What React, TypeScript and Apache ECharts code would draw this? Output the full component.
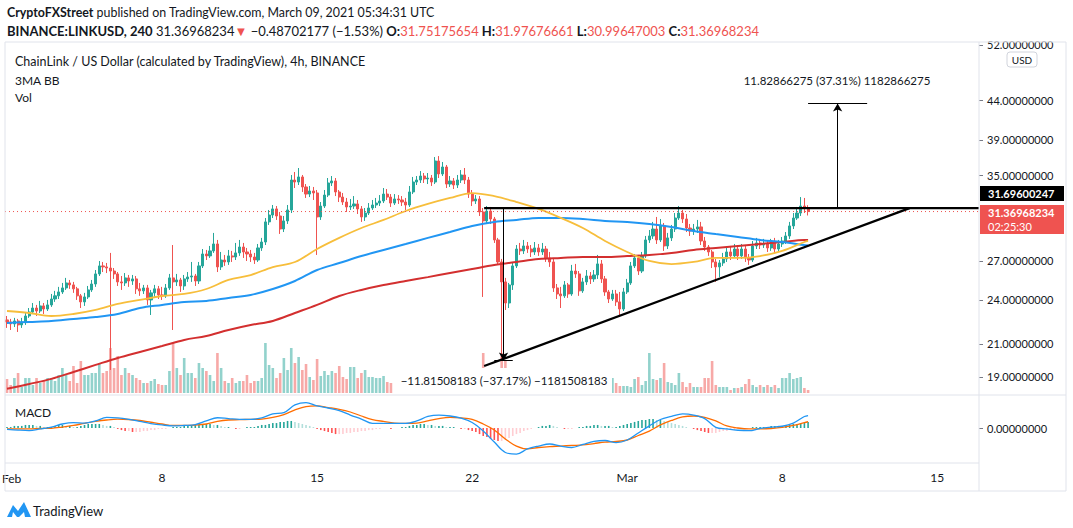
import { useEffect, useRef } from 'react';
import * as echarts from 'echarts';

// ---------- DATA ----------
// 4h candles from 2021-02-01 00:00 UTC: [open, close, low, high]
const candles: number[][] = [
  // Feb 1
  [22.58,22.44,22.04,22.85],[22.44,22.31,21.90,22.65],[22.31,22.51,22.10,22.72],[22.51,22.24,21.77,22.65],[22.24,22.44,22.04,22.72],[22.44,22.85,22.24,23.06],
  // Feb 2
  [22.85,23.13,22.72,23.41],[23.13,23.41,22.99,23.77],[23.41,23.20,22.85,23.63],[23.20,23.56,23.06,23.92],[23.56,23.34,22.99,23.77],[23.34,23.63,23.20,23.99],
  // Feb 3
  [23.63,24.06,23.49,24.43],[24.06,24.29,23.85,24.66],[24.29,24.58,24.06,24.96],[24.58,24.88,24.43,25.26],[24.88,25.26,24.73,25.65],[25.26,25.11,24.81,25.49],
  // Feb 4
  [25.11,24.81,24.51,25.34],[24.81,24.29,23.99,24.96],[24.29,23.85,23.41,24.43],[23.85,24.21,23.56,24.51],[24.21,24.73,24.06,25.03],[24.73,25.18,24.58,25.49],
  // Feb 5
  [25.18,25.96,24.96,26.27],[25.96,26.60,25.80,27.00],[26.60,26.52,26.11,26.92],[26.52,26.43,26.03,26.84],[26.43,26.19,19.40,27.67],[26.19,25.96,25.57,26.43],
  // Feb 6
  [25.96,25.34,25.03,26.11],[25.34,25.26,24.73,25.80],[25.26,25.65,25.03,26.03],[25.65,25.41,24.96,25.88],[25.41,25.57,25.11,25.88],[25.57,24.81,24.43,25.80],
  // Feb 7
  [24.81,24.66,24.29,25.26],[24.66,24.88,24.43,25.11],[24.88,23.99,23.63,25.11],[23.99,24.51,22.92,24.73],[24.51,24.81,24.21,25.11],[24.81,24.36,24.06,25.03],
  // Feb 8
  [24.36,24.29,23.99,24.96],[24.29,24.88,24.14,25.18],[24.88,25.65,24.73,25.96],[25.65,25.34,21.90,28.34],[25.34,25.49,25.03,25.96],[25.49,25.03,24.58,25.65],
  // Feb 9
  [25.03,25.57,24.73,25.88],[25.57,25.72,25.34,26.11],[25.72,25.80,25.34,26.92],[25.80,25.41,25.03,25.96],[25.41,26.60,25.18,26.92],[26.60,27.58,26.43,28.00],
  // Feb 10
  [27.58,27.42,27.08,27.92],[27.42,27.84,27.25,28.26],[27.84,28.43,27.67,29.40],[28.43,26.52,26.11,28.78],[26.52,27.08,26.27,27.75],[27.08,26.92,26.60,27.50],
  // Feb 11
  [26.92,27.42,26.68,27.92],[27.42,27.33,26.92,27.84],[27.33,27.67,27.08,28.52],[27.67,28.17,27.42,28.78],[28.17,27.75,27.25,28.52],[27.75,27.58,27.00,28.09],
  // Feb 12
  [27.58,27.33,26.92,27.92],[27.33,27.08,26.76,27.67],[27.08,28.09,26.92,28.43],[28.09,28.60,27.84,28.96],[28.60,30.40,28.34,30.76],[30.40,31.04,30.12,31.52],
  // Feb 13
  [31.04,31.62,30.76,32.00],[31.62,30.95,30.58,31.90],[30.95,29.75,29.31,31.33],[29.75,30.49,29.48,30.95],[30.49,31.52,30.21,32.00],[31.52,34.52,31.23,35.05],
  // Feb 14
  [34.52,34.31,33.69,35.37],[34.31,34.84,34.00,35.80],[34.84,33.80,33.29,35.05],[33.80,33.08,32.69,34.10],[33.08,33.39,32.78,33.90],[33.39,33.19,32.49,33.80],
  // Feb 15
  [33.19,30.86,27.50,33.49],[30.86,31.90,30.58,32.29],[31.90,32.98,31.71,33.49],[32.98,34.21,32.78,34.73],[34.21,34.42,33.90,34.94],[34.42,33.29,32.88,34.73],
  // Feb 16
  [33.29,32.78,32.29,33.49],[32.78,32.29,32.00,33.19],[32.29,31.81,31.33,32.69],[31.81,31.90,31.52,32.59],[31.90,32.10,31.62,32.88],[32.10,31.62,31.14,32.49],
  // Feb 17
  [31.62,30.86,30.40,31.90],[30.86,31.23,30.49,31.71],[31.23,31.71,31.04,32.19],[31.71,32.00,31.52,32.49],[32.00,32.19,31.71,32.69],[32.19,32.39,31.90,32.98],
  // Feb 18
  [32.39,33.08,32.19,33.69],[33.08,32.78,32.49,33.59],[32.78,32.19,31.81,33.08],[32.19,32.59,32.00,33.08],[32.59,32.49,32.10,32.98],[32.49,32.29,31.90,32.88],
  // Feb 19
  [32.29,32.00,31.52,32.69],[32.00,33.29,31.81,33.90],[33.29,34.31,33.08,34.84],[34.31,34.52,34.00,34.94],[34.52,34.94,34.21,35.47],[34.94,34.63,34.21,35.26],
  // Feb 20
  [34.63,34.73,34.10,35.26],[34.73,34.31,33.90,35.05],[34.31,36.57,34.10,37.01],[36.57,35.16,34.73,37.12],[35.16,35.91,34.94,36.46],[35.91,34.10,33.69,36.13],
  // Feb 21
  [34.10,34.42,33.80,34.94],[34.42,34.00,33.59,34.73],[34.00,34.52,33.69,35.05],[34.52,35.05,34.21,35.58],[35.05,34.52,34.10,35.80],[34.52,33.08,32.69,34.84],
  // Feb 22
  [33.08,32.39,31.90,33.49],[32.39,32.59,32.10,32.98],[32.59,31.33,30.95,32.88],[31.33,30.49,24.21,31.71],[30.49,31.42,30.21,31.90],[31.42,30.67,30.21,31.81],
  // Feb 23
  [30.67,28.78,28.52,30.86],[28.78,26.92,26.68,28.96],[26.92,25.34,19.97,27.17],[25.34,23.77,23.27,25.65],[23.77,25.11,23.41,25.26],[25.11,26.60,24.73,26.92],
  // Feb 24
  [26.60,28.00,26.43,28.34],[28.00,27.84,27.50,28.52],[27.84,28.26,27.58,28.78],[28.26,28.00,27.67,28.60],[28.00,27.75,27.33,28.34],[27.75,28.09,27.50,28.60],
  // Feb 25
  [28.09,27.75,27.42,28.43],[27.75,28.00,27.50,28.52],[28.00,27.25,26.92,28.26],[27.25,26.92,26.52,27.75],[26.92,24.88,24.58,27.17],[24.88,24.43,24.06,25.18],
  // Feb 26
  [24.43,24.29,23.41,24.96],[24.29,25.11,24.14,25.41],[25.11,24.43,24.14,25.26],[24.43,26.19,24.29,26.68],[26.19,25.96,25.65,26.76],[25.96,24.66,24.29,26.19],
  // Feb 27
  [24.66,25.34,24.51,25.65],[25.34,25.80,25.11,26.27],[25.80,25.57,25.18,26.11],[25.57,25.88,25.34,26.27],[25.88,26.76,25.57,27.50],[26.76,25.57,25.26,27.08],
  // Feb 28
  [25.57,24.58,24.29,25.80],[24.58,24.06,23.77,24.73],[24.06,24.43,23.92,24.73],[24.43,23.85,23.56,24.73],[23.85,23.34,22.78,24.58],[23.34,24.58,23.20,24.88],
  // Mar 1
  [24.58,25.26,24.43,25.57],[25.26,26.60,25.11,26.92],[26.60,27.25,26.43,27.58],[27.25,26.19,25.88,27.50],[26.19,27.42,26.03,27.75],[27.42,28.78,27.25,29.13],
  // Mar 2
  [28.78,29.13,28.52,29.66],[29.13,29.75,28.87,30.40],[29.75,28.78,28.43,30.86],[28.78,30.03,28.60,30.67],[30.03,28.26,27.84,30.30],[28.26,28.96,28.00,29.40],
  // Mar 3
  [28.96,29.75,28.69,30.12],[29.75,30.76,29.48,31.23],[30.76,31.23,30.58,31.90],[31.23,30.67,30.30,31.52],[30.67,29.84,29.48,31.14],[29.84,29.57,29.13,30.21],
  // Mar 4
  [29.57,29.75,29.22,30.21],[29.75,29.94,29.40,30.58],[29.94,28.69,28.34,30.40],[28.69,28.17,27.84,29.04],[28.17,27.75,27.42,28.34],[27.75,26.92,26.43,27.92],
  // Mar 5
  [26.92,26.52,25.34,27.17],[26.52,26.84,25.72,27.08],[26.84,27.17,26.60,27.67],[27.17,27.75,26.92,28.17],[27.75,27.42,27.08,28.26],[27.42,28.00,27.25,28.43],
  // Mar 6
  [28.00,27.42,27.08,28.34],[27.42,28.00,27.17,28.43],[28.00,27.25,26.92,28.34],[27.25,27.08,26.68,27.58],[27.08,28.26,26.92,28.69],[28.26,28.52,28.00,28.96],
  // Mar 7
  [28.52,28.34,28.00,28.87],[28.34,28.43,28.09,28.87],[28.43,28.09,27.75,28.69],[28.09,28.52,27.84,28.87],[28.52,28.00,27.67,28.96],[28.00,28.43,27.75,28.78],
  // Mar 8
  [28.43,28.69,28.17,29.04],[28.69,29.13,28.43,29.48],[29.13,30.03,28.87,30.40],[30.03,30.76,29.75,31.23],[30.76,31.23,30.58,31.81],[31.23,31.90,30.95,32.78],
  // Mar 9
  [31.90,31.75,31.23,32.69],[31.75175654,31.36968234,30.99647003,31.97676661],
];

// volume per candle (relative units)
const volumes: number[] = [
  14,8,15,20,6,15, 15,8,15,10,12,15, 15,12,18,25,18,12, 27,10,32,18,18,20, 20,30,20,22,45,25,
  37,18,25,20,18,15, 13,10,10,12,14,9, 8,8,22,55,25,18, 35,20,20,15,30,25, 22,18,12,40,25,12,
  10,15,10,12,12,18, 10,12,12,15,50,28, 25,15,20,35,23,45, 30,36,23,29,16,13, 34,17,22,18,22,20,
  27,16,14,26,26,15, 20,23,16,16,15,15, 17,11,10,8,8,8, 12,18,20,10,14,9, 10,12,22,20,14,16,
  10,8,12,14,12,18, 16,10,18,40,20,14, 22,22,40,33,20,18, 20,12,10,9,10,8, 8,9,10,12,22,18,
  20,12,10,18,10,14, 10,12,8,9,16,12, 14,10,15,10,7,7, 7,6,14,16,8,12, 40,14,13,15,30,11,
  10,8,20,11,6,10, 6,6,6,15,15,32, 8,6,6,6,3,5, 5,6,9,14,8,6, 8,6,8,6,8,5,
  15,15,20,14,15,16, 5,3,
];

// moving averages, one point per day at 00:00 (Feb 1 .. Mar 9) + last candle
const maYellow = [23.20,23.06,22.85,22.99,23.27,23.70,23.99,24.28,24.43,24.80,25.49,25.87,26.51,26.92,28.00,28.96,29.84,30.58,31.42,32.10,32.69,33.18,32.87,32.29,31.62,30.77,29.84,28.69,27.75,27.00,26.75,26.92,27.25,27.25,27.41,27.84,28.60,28.69];
const maBlue = [22.37,22.44,22.51,22.65,22.78,22.99,23.41,23.63,23.84,23.92,24.14,24.36,24.80,25.41,26.27,26.83,27.41,27.92,28.43,28.96,29.48,30.02,30.39,30.58,30.77,30.77,30.67,30.49,30.39,30.21,29.93,29.57,29.30,29.04,28.78,28.60,28.34,28.30];
const maRed = [18.32,18.59,18.88,19.28,19.70,20.12,20.49,20.86,21.25,21.51,21.90,22.23,22.51,23.06,23.63,24.28,24.73,25.10,25.41,25.71,26.03,26.35,26.67,26.92,27.16,27.25,27.33,27.33,27.41,27.50,27.67,27.92,28.09,28.26,28.43,28.60,28.78,28.78];

// MACD, one point per 12h + last candle
const macdLine = [-0.08,-0.13,-0.16,-0.06,0.06,0.25,0.34,0.31,0.44,0.66,0.63,0.54,0.41,0.28,0.19,0.13,0.16,0.21,0.44,0.64,0.59,0.54,0.54,0.63,0.88,0.96,1.44,1.59,1.38,1.25,1.09,0.81,0.56,0.29,0.29,0.29,0.29,0.44,0.72,0.81,0.75,0.61,0.34,-0.19,-0.88,-1.53,-1.63,-1.31,-1.13,-1.00,-1.13,-1.22,-1.03,-0.84,-0.78,-0.91,-0.75,-0.31,0.13,0.53,0.72,0.88,0.81,0.59,0.04,-0.06,-0.14,-0.17,-0.03,0.06,0.11,0.31,0.72,0.78];
const signalLine = [-0.06,-0.05,-0.05,-0.03,-0.02,0.06,0.16,0.29,0.41,0.50,0.55,0.53,0.47,0.36,0.25,0.16,0.16,0.18,0.25,0.41,0.50,0.52,0.54,0.56,0.66,0.84,1.13,1.34,1.38,1.28,1.17,1.00,0.75,0.53,0.41,0.31,0.29,0.31,0.44,0.59,0.67,0.63,0.54,0.25,-0.13,-0.69,-1.13,-1.31,-1.22,-1.16,-1.13,-1.09,-1.06,-0.97,-0.88,-0.84,-0.75,-0.47,-0.19,0.19,0.47,0.69,0.75,0.66,0.44,0.13,0.00,-0.06,-0.06,-0.03,0.04,0.16,0.34,0.39];
// MACD histogram per candle
const macdHist = [
  0.06,0.06,0.13,0.13,0.13,0.19, 0.19,0.19,0.13,0.13,0.06,0.06, 0.06,0.13,0.19,0.19,0.13,0.13, 0.06,0.06,0.13,0.19,0.25,0.25,
  0.25,0.25,0.19,0.13,0.13,0.06, -0.06,-0.13,-0.19,-0.19,-0.25,-0.25, -0.25,-0.19,-0.19,-0.13,-0.13,-0.06, -0.06,-0.06,0,0.06,0.06,0.06,
  0.13,0.13,0.13,0.19,0.19,0.25, 0.25,0.25,0.19,0.19,0.13,0.06, 0.06,0,-0.06,-0.06,0,0.06, 0.06,0.06,0.13,0.19,0.19,0.25,
  0.31,0.31,0.38,0.38,0.44,0.44, 0.38,0.31,0.25,0.19,0.13,0.06, -0.06,-0.13,-0.19,-0.25,-0.31,-0.38, -0.38,-0.38,-0.31,-0.31,-0.25,-0.25,
  -0.19,-0.19,-0.13,-0.13,-0.06,-0.06, 0,0,-0.06,0,0,0.06, 0.06,0.13,0.19,0.19,0.25,0.25, 0.19,0.19,0.13,0.13,0.13,0.06,
  0.06,0.06,0,-0.06,-0.06,-0.13, -0.19,-0.25,-0.38,-0.5,-0.56,-0.69, -0.75,-0.81,-0.81,-0.75,-0.63,-0.5, -0.38,-0.31,-0.19,-0.13,-0.06,0,
  0.06,0.13,0.13,0.19,0.13,0.06, 0,-0.06,-0.06,-0.06,0,0.06, 0.06,0.13,0.13,0.19,0.19,0.13, 0.13,0.13,0.06,0.06,0.13,0.19,
  0.25,0.31,0.38,0.44,0.5,0.5, 0.56,0.56,0.5,0.5,0.44,0.38, 0.31,0.25,0.19,0.13,0.06,0, -0.06,-0.13,-0.19,-0.25,-0.31,-0.31,
  -0.31,-0.25,-0.19,-0.19,-0.13,-0.13, -0.06,-0.06,0,0,0.06,0.06, 0.06,0.06,0.06,0.13,0.13,0.13, 0.13,0.19,0.19,0.25,0.25,0.31,
  0.31,0.38,
];

// axis ticks
const priceTicks = [19, 21, 24, 27, 35, 39, 44, 52];
const timeTicks = ['2021-02-08', '2021-02-15', '2021-02-22', '2021-03-01', '2021-03-08', '2021-03-15'];
const firstMonthLabel = 'Feb'; // label of 2021-02-01 at the pane's left edge
const MONTHS = ['Jan', 'Feb', 'Mar', 'Apr', 'May', 'Jun', 'Jul', 'Aug', 'Sep', 'Oct', 'Nov', 'Dec'];

// drawings / annotations
const resistance = 31.69600247;
const lastPrice = 31.36968234;
const supportStart = 19.63;
const drawStart = '2021-02-22T13:00:00Z';
const supportEnd = '2021-03-13T18:00:00Z';
const dropAbs = 11.81508183;
const dropPct = 37.17;
const dropStart = 31.7866;
const dropTime = '2021-02-23T10:00:00Z';
const dropCap = ['2021-02-23T00:00:00Z', '2021-02-23T20:00:00Z'];
const riseAbs = 11.82866275;
const risePct = 37.31;
const riseTime = '2021-03-10T12:00:00Z';
const riseCap = ['2021-03-09T04:00:00Z', '2021-03-11T20:00:00Z'];

// ---------- HELPERS ----------
const HOUR4 = 4 * 3600 * 1000;
const DAY = 24 * 3600 * 1000;
const T0 = Date.UTC(2021, 1, 1);
const X_MIN = T0 - 0.0903 * DAY;
const X_MAX = T0 + 43.883 * DAY;
const P_TOP = 52.47;
const P_BOTTOM = 17.98;
const FONT = 'Lato, "Noto Sans", sans-serif';
const TXT = '#131722';
const UP = '#26a69a';
const DOWN = '#ef5350';
const BORDER = '#e0e3eb';
const ln = Math.log;
const t = (s: string) => Date.parse(s.length === 10 ? s + 'T00:00:00Z' : s);

function buildOption() {
  const times = candles.map((_, i) => T0 + i * HOUR4);
  const lastT = times[times.length - 1];
  const maT = (i: number, n: number) => (i < n - 1 ? T0 + i * DAY : lastT);
  const macdT = (i: number, n: number) => (i < n - 1 ? T0 + (i * DAY) / 2 : lastT);
  const riseEnd = resistance + riseAbs;
  const dropEnd = dropStart - dropAbs;

  const maSeries = (vals: number[], color: string, width: number) => ({
    type: 'line', xAxisIndex: 0, yAxisIndex: 0, z: 3, showSymbol: false, symbol: 'none', smooth: 0.35,
    data: vals.map((v, i) => [maT(i, vals.length), ln(v)]),
    lineStyle: { color, width }, silent: true,
  });
  const macdSeries = (vals: number[], color: string) => ({
    type: 'line', xAxisIndex: 2, yAxisIndex: 2, z: 3, showSymbol: false, symbol: 'none', smooth: 0.35,
    data: vals.map((v, i) => [macdT(i, vals.length), v]),
    lineStyle: { color, width: 1.3 }, silent: true,
  });

  const xAxisBase = (gridIndex: number) => ({
    type: 'value', gridIndex, min: X_MIN, max: X_MAX, scale: true,
    axisLine: { show: false }, axisTick: { show: false }, splitLine: { show: false },
    axisLabel: { show: false },
  });

  const lbl = (text: string, x: number, y: number, size = 12, extra: any = {}) => ({
    type: 'text', x, y, z: 120,
    style: { text, fill: TXT, fontSize: size, fontFamily: FONT, verticalAlign: 'middle', ...extra },
  });
  const hline = (x1: number, y1: number, x2: number, y2: number, color = BORDER) => ({
    type: 'line', z: 130, shape: { x1, y1, x2, y2 }, style: { stroke: color, lineWidth: 1 },
  });

  return {
    animation: false,
    backgroundColor: '#ffffff',
    textStyle: { fontFamily: FONT },
    grid: [
      { left: 5, right: 94, top: 42, height: 353 },
      { left: 5, right: 94, top: 343, height: 50 },
      { left: 5, right: 94, top: 395, height: 68 },
    ],
    xAxis: [
      xAxisBase(0),
      xAxisBase(1),
      {
        ...xAxisBase(2),
        axisLabel: {
          show: true, color: TXT, fontSize: 12, margin: 8, fontFamily: FONT,
          customValues: timeTicks.map(t),
          formatter: (v: number) => {
            const d = new Date(v);
            return d.getUTCDate() === 1 ? MONTHS[d.getUTCMonth()] : String(d.getUTCDate());
          },
        },
      },
    ],
    yAxis: [
      {
        type: 'value', gridIndex: 0, position: 'right', min: ln(P_BOTTOM), max: ln(P_TOP), scale: true,
        splitLine: { show: false }, axisLine: { show: false },
        axisTick: { show: true, length: 4, lineStyle: { color: '#787b86' }, customValues: priceTicks.map(ln) },
        axisLabel: {
          color: TXT, fontSize: 11, margin: 8, fontFamily: FONT,
          customValues: priceTicks.map(ln),
          formatter: (v: number) => Math.exp(v).toFixed(8),
        },
      },
      { type: 'value', gridIndex: 1, min: 0, max: 50, show: false },
      {
        type: 'value', gridIndex: 2, position: 'right', min: -2.1875, max: 2.0625,
        splitLine: { show: false }, axisLine: { show: false },
        axisTick: { show: true, length: 4, lineStyle: { color: '#787b86' }, customValues: [0] },
        axisLabel: {
          color: TXT, fontSize: 11, margin: 8, fontFamily: FONT, customValues: [0],
          formatter: (v: number) => v.toFixed(8),
        },
      },
    ],
    series: [
      {
        type: 'bar', xAxisIndex: 1, yAxisIndex: 1, z: 1, barWidth: 2.6, silent: true,
        data: volumes.map((v, i) => ({
          value: [times[i], v],
          itemStyle: { color: candles[i][1] >= candles[i][0] ? 'rgba(38,166,154,0.5)' : 'rgba(239,83,80,0.5)' },
        })),
      },
      {
        type: 'candlestick', xAxisIndex: 0, yAxisIndex: 0, z: 2, barWidth: 2.6, silent: true,
        data: candles.map((c, i) => [times[i], ln(c[0]), ln(c[1]), ln(c[2]), ln(c[3])]),
        itemStyle: { color: UP, color0: DOWN, borderColor: UP, borderColor0: DOWN, borderWidth: 1 },
      },
      maSeries(maRed, '#d32f2f', 2),
      maSeries(maBlue, '#2196f3', 2),
      maSeries(maYellow, '#f7be3b', 1.8),
      {
        type: 'line', xAxisIndex: 0, yAxisIndex: 0, z: 4, symbol: 'none', silent: true,
        data: [[X_MIN, ln(lastPrice)], [X_MAX, ln(lastPrice)]],
        lineStyle: { color: DOWN, width: 1, type: [1, 3] },
      },
      {
        type: 'line', xAxisIndex: 0, yAxisIndex: 0, z: 5, symbol: 'none', silent: true,
        data: [[t(drawStart), ln(resistance)], [X_MAX, ln(resistance)]],
        lineStyle: { color: '#000', width: 2.2 },
        markLine: {
          silent: true, symbol: ['none', 'none'], symbolSize: 8, label: { show: false },
          lineStyle: { color: '#000', width: 1, type: 'solid' },
          data: [
            [{ coord: [t(dropTime), ln(dropStart)], symbol: 'none' }, { coord: [t(dropTime), ln(dropEnd)], symbol: 'arrow', symbolSize: [7, 8] }],
            [{ coord: [t(dropCap[0]), ln(dropEnd)] }, { coord: [t(dropCap[1]), ln(dropEnd)] }],
            [{ coord: [t(riseTime), ln(resistance)], symbol: 'none' }, { coord: [t(riseTime), ln(riseEnd)], symbol: 'arrow', symbolSize: [7, 8] }],
            [{ coord: [t(riseCap[0]), ln(riseEnd)] }, { coord: [t(riseCap[1]), ln(riseEnd)] }],
          ],
        },
      },
      {
        type: 'line', xAxisIndex: 0, yAxisIndex: 0, z: 5, symbol: 'none', silent: true,
        data: [[t(drawStart), ln(supportStart)], [t(supportEnd), ln(resistance)]],
        lineStyle: { color: '#000', width: 2.2 },
      },
      {
        type: 'bar', xAxisIndex: 2, yAxisIndex: 2, z: 2, barWidth: 1.6, silent: true,
        data: macdHist.map((v, i) => {
          const prev = i > 0 ? macdHist[i - 1] : 0;
          const color = v >= 0 ? (v >= prev ? UP : '#b2dfdb') : (v < prev ? '#ff5252' : '#ffcdd2');
          return { value: [times[i], v], itemStyle: { color } };
        }),
      },
      macdSeries(signalLine, '#ff6d00'),
      macdSeries(macdLine, '#2196f3'),
    ],
    graphic: [
      {
        type: 'text', x: 7, y: 12, z: 120,
        style: {
          text: '{b|CryptoFXStreet}{n| published on TradingView.com, March 09, 2021 05:34:31 UTC}',
          verticalAlign: 'middle',
          rich: {
            b: { fontWeight: 'bold', fontSize: 12.4, fontFamily: FONT, fill: TXT },
            n: { fontSize: 12.4, fontFamily: FONT, fill: TXT },
          },
        },
      },
      {
        type: 'text', x: 7, y: 31, z: 120,
        style: {
          text: `{b|BINANCE:LINKUSD, 240}{n| ${lastPrice.toFixed(8)}}{r|▼}{n| −0.48702177 (−1.53%) }{b|O:}{r|31.75175654}{b| H:}{r|31.97676661}{b| L:}{r|30.99647003}{b| C:}{r|${lastPrice.toFixed(8)}}`,
          verticalAlign: 'middle',
          rich: {
            b: { fontWeight: 'bold', fontSize: 13, fontFamily: FONT, fill: TXT },
            n: { fontSize: 13, fontFamily: FONT, fill: TXT },
            r: { fontSize: 13, fontFamily: FONT, fill: DOWN },
          },
        },
      },
      lbl('ChainLink / US Dollar (calculated by TradingView), 4h, BINANCE', 15, 61, 12.5),
      lbl('3MA BB', 15, 80, 12),
      lbl('Vol', 15, 97, 12),
      lbl('MACD', 15, 412, 12),
      lbl(firstMonthLabel, 2, 478, 12, { align: 'left' }),
      { type: 'rect', z: 110, shape: { x: 980, y: 20, width: 90, height: 21.5 }, style: { fill: '#fff' } },
      { type: 'rect', z: 120, shape: { x: 1007, y: 52, width: 30, height: 15, r: 3 }, style: { fill: '#fff', stroke: '#d1d4dc', lineWidth: 1 } },
      lbl('USD', 1022, 59.5, 10, { align: 'center' }),
      { type: 'rect', z: 120, shape: { x: 980, y: 186, width: 84, height: 15 }, style: { fill: '#000' } },
      lbl(resistance.toFixed(8), 988, 193.5, 11, { fill: '#fff', fontWeight: 'bold' }),
      { type: 'rect', z: 120, shape: { x: 980, y: 205, width: 84, height: 29 }, style: { fill: DOWN } },
      lbl(lastPrice.toFixed(8), 988, 212.5, 11, { fill: '#fff', fontWeight: 'bold' }),
      lbl('02:25:30', 988, 226, 11, { fill: '#fff' }),
      { type: 'rect', z: 115, shape: { x: 393, y: 368, width: 219, height: 26 }, style: { fill: '#fff' } },
      lbl(`−${dropAbs.toFixed(8)} (−${dropPct.toFixed(2)}%) −${dropAbs.toFixed(8).replace('.', '')}`, 504, 380.5, 11.5, { align: 'center' }),
      lbl(`${riseAbs.toFixed(8)} (${risePct.toFixed(2)}%) ${riseAbs.toFixed(8).replace('.', '')}`, 837, 80, 11.5, { align: 'center' }),
      hline(5, 42, 1066, 42),
      hline(5, 42, 5, 491),
      hline(1066, 42, 1066, 491),
      hline(5, 491, 1066, 491),
      hline(5, 395, 1066, 395),
      hline(5, 463, 979, 463),
      hline(979, 42, 979, 491),
      {
        type: 'polygon', z: 120,
        shape: { points: [[7, 517], [13, 505], [18, 511], [24, 502], [31, 517], [25, 517], [24, 512], [19, 517], [17, 517], [13, 512], [12, 517]] },
        style: { fill: '#2196f3' },
      },
      lbl('TradingView', 33, 511, 13),
    ],
  };
}

export default function App() {
  const ref = useRef<HTMLDivElement>(null);
  useEffect(() => {
    if (!ref.current) return;
    const chart = echarts.init(ref.current, null, { renderer: 'svg' });
    chart.setOption(buildOption() as any);
    return () => chart.dispose();
  }, []);
  return (
    <div
      ref={ref}
      style={{ position: 'fixed', left: 0, top: 0, width: 1073, height: 528, background: '#fff' }}
    />
  );
}
